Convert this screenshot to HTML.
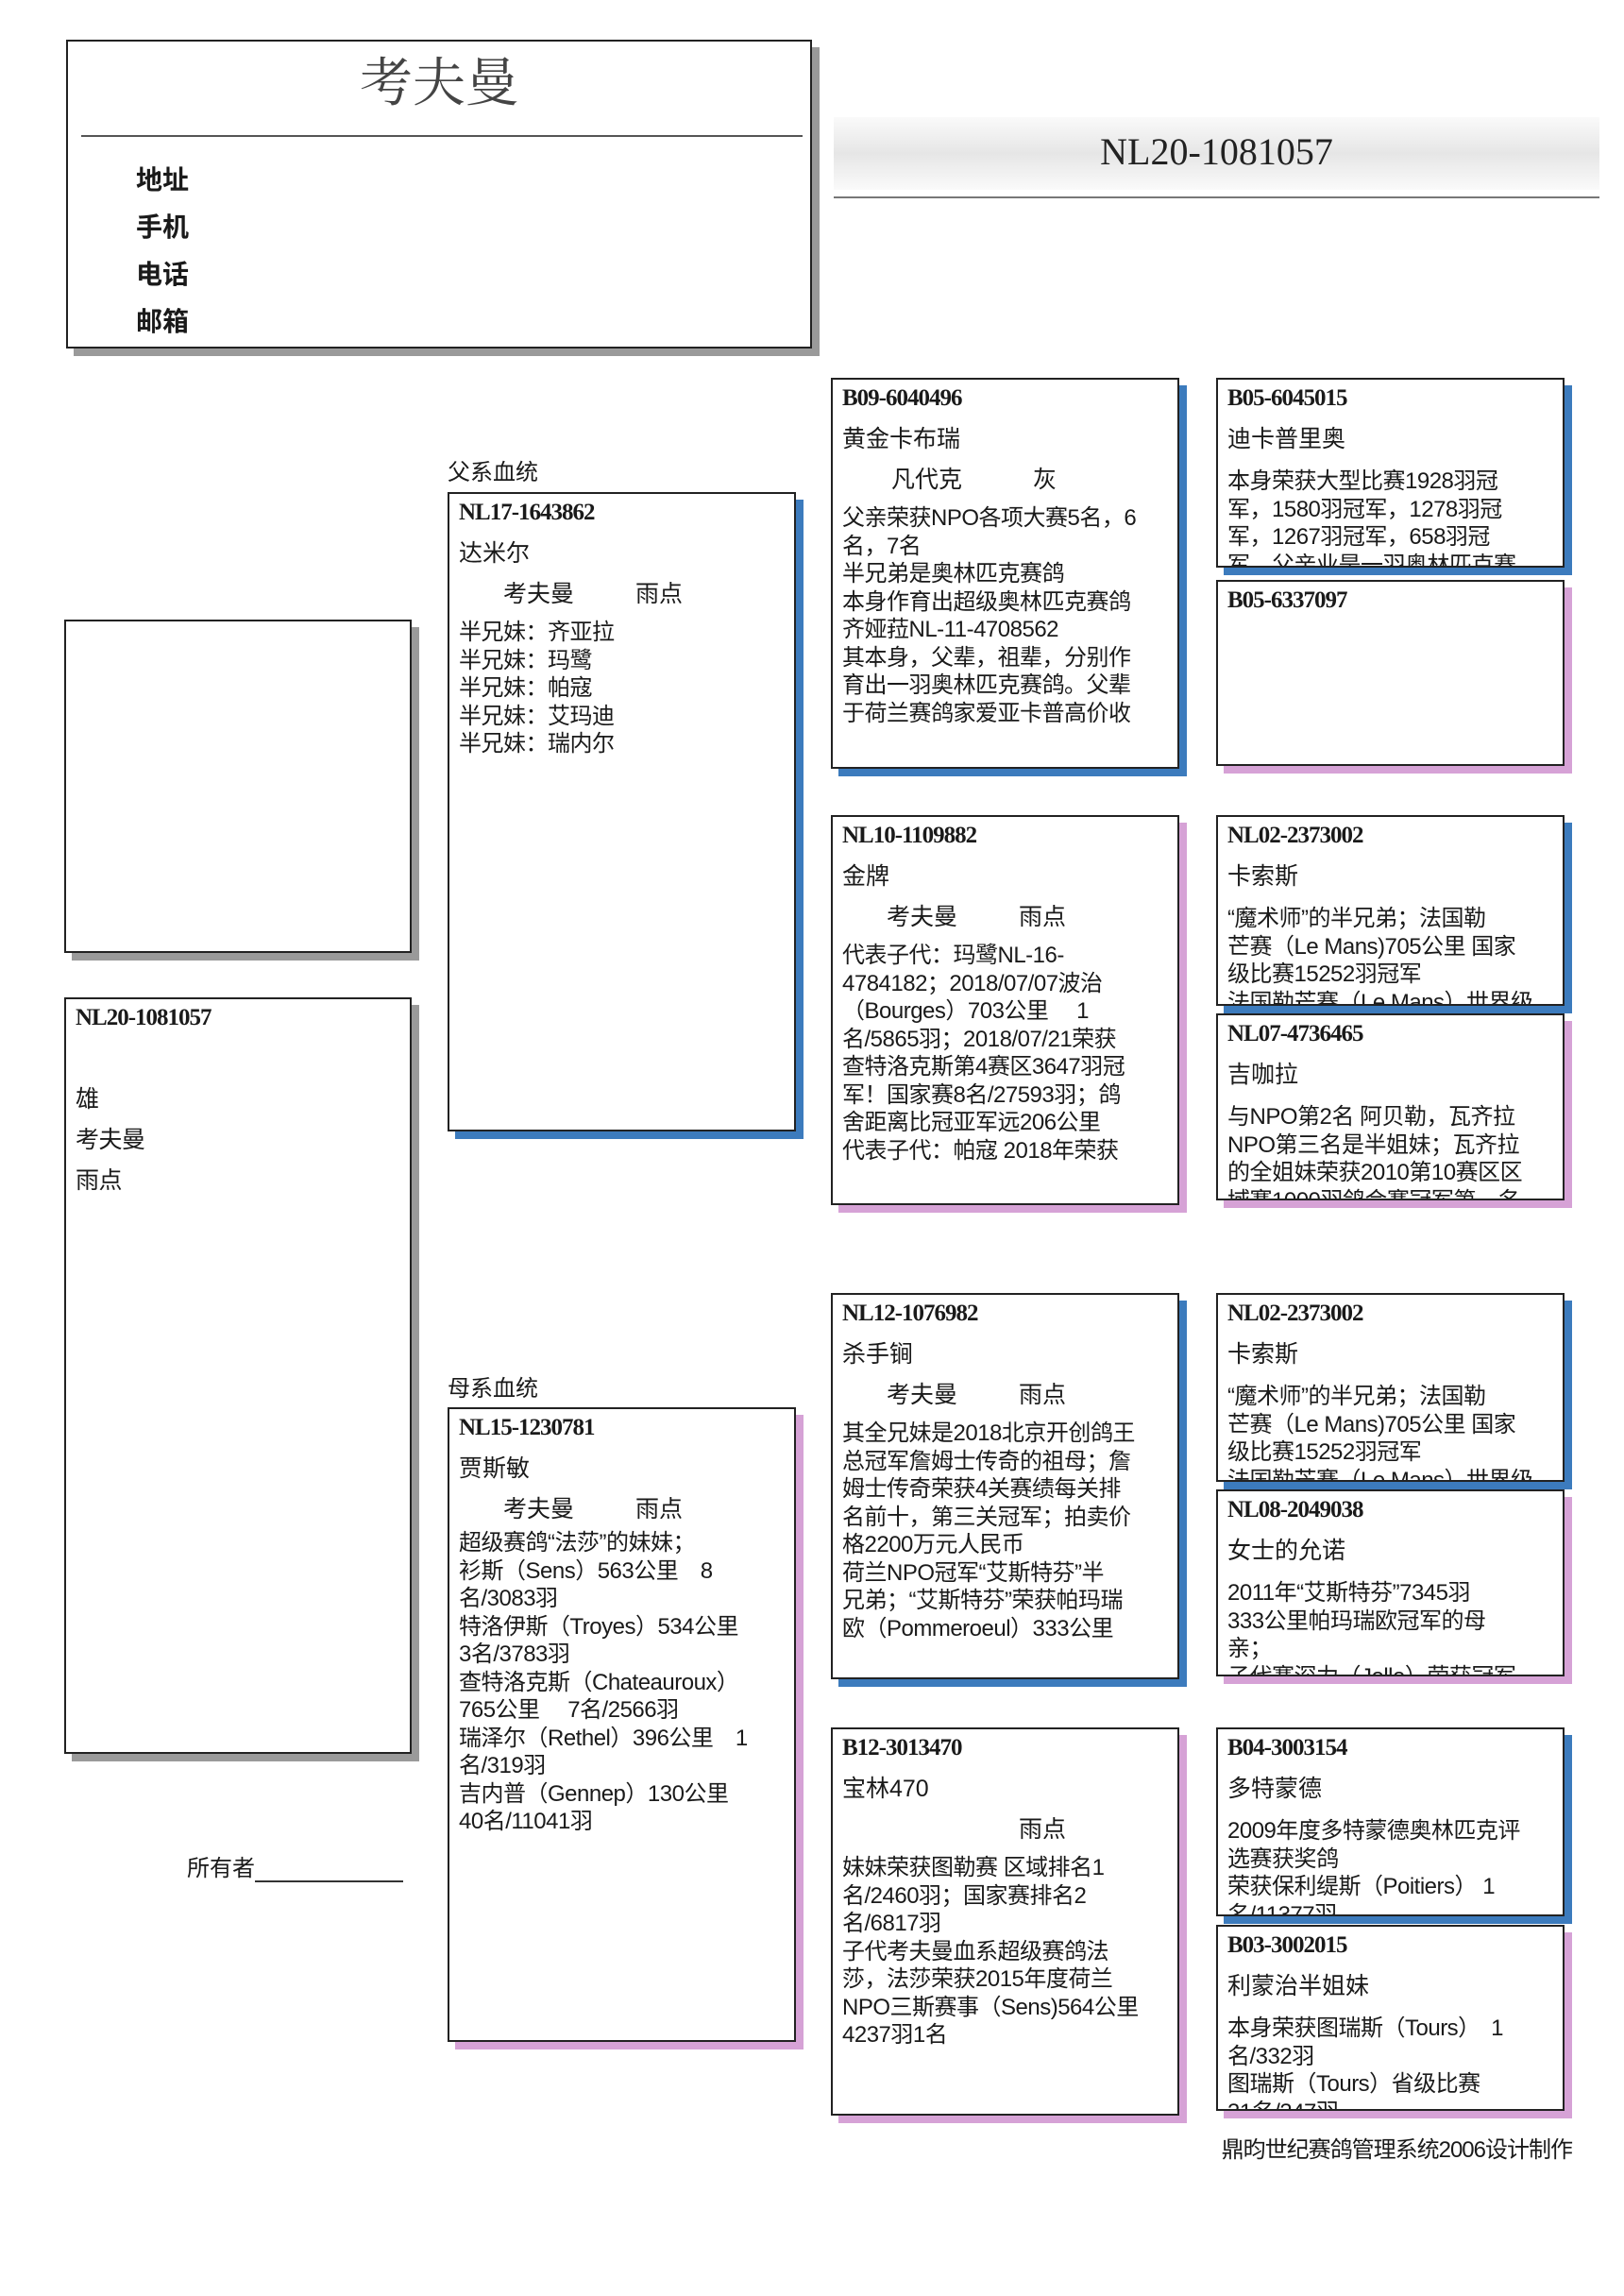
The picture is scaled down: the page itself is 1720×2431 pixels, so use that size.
<!DOCTYPE html>
<html><head><meta charset="utf-8"><style>
*{margin:0;padding:0;box-sizing:border-box}
body{width:1720px;height:2431px;background:#fff;position:relative;overflow:hidden;font-family:"Liberation Sans","Noto Sans CJK SC",sans-serif;color:#1a1a1a}
.b{position:absolute;border:2px solid #222;background:#fff}
.blue{box-shadow:8px 8px 0 #3c7bbd}
.pink{box-shadow:8px 8px 0 #d6a2d6}
.gray{box-shadow:8px 8px 0 #9a9a9a}
.in{position:absolute;inset:0;overflow:hidden}
.id{position:absolute;left:10px;top:5px;font-family:"Liberation Serif",serif;font-weight:bold;font-size:25px;line-height:30px;letter-spacing:-1px;white-space:nowrap}
.nm{position:absolute;left:10px;top:48px;font-size:25px;line-height:30px;white-space:nowrap}
.r3{position:absolute;top:91px;font-size:25px;line-height:30px;white-space:nowrap}
.bd{position:absolute;left:10px;font-size:24px;line-height:29.5px;white-space:nowrap;letter-spacing:-0.5px}
.lbl{position:absolute;font-size:24px;white-space:nowrap}
</style></head><body>

<div class="b gray" style="left:70px;top:42px;width:790px;height:327px">
  <div style="position:absolute;left:0;right:0;top:10px;text-align:center;font-family:'Liberation Serif','Noto Serif CJK SC',serif;font-size:56px;line-height:70px;color:#444">考夫曼</div>
  <div style="position:absolute;left:14px;right:8px;top:99px;height:2px;background:#555"></div>
  <div style="position:absolute;left:72px;top:122px;font-size:28px;font-weight:bold;line-height:50px">地址<br>手机<br>电话<br>邮箱</div>
</div>

<div style="position:absolute;left:883px;top:124px;width:811px;height:77px;background:linear-gradient(#fafafa,#e6e6e6 50%,#fafafa)"></div>
<div style="position:absolute;left:883px;top:136px;width:811px;text-align:center;font-family:'Liberation Serif',serif;font-size:40px;line-height:50px;color:#222">NL20-1081057</div>
<div style="position:absolute;left:883px;top:208px;width:811px;height:2px;background:#777"></div>

<div class="b gray" style="left:68px;top:656px;width:368px;height:353px"></div>

<div class="b gray" style="left:68px;top:1056px;width:368px;height:801px"><div class="in">
<div class="id">NL20-1081057</div>
<div class="bd" style="top:85px;font-size:25px;line-height:43px">雄<br>考夫曼<br>雨点</div>
</div></div>

<div class="lbl" style="left:474px;top:480px">父系血统</div>
<div class="lbl" style="left:474px;top:1450px">母系血统</div>
<div class="lbl" style="left:198px;top:1958px">所有者<span style="display:inline-block;width:157px;border-bottom:2px solid #333;height:22px;vertical-align:bottom"></span></div>
<div class="lbl" style="right:55px;top:2256px;font-size:24px;letter-spacing:-1px">鼎昀世纪赛鸽管理系统2006设计制作</div>

<div class="b blue" style="left:474px;top:521px;width:369px;height:677px"><div class="in">
<div class="id">NL17-1643862</div><div class="nm">达米尔</div>
<div class="r3" style="left:57px">考夫曼</div><div class="r3" style="left:197px">雨点</div>
<div class="bd" style="top:132px">半兄妹：齐亚拉<br>半兄妹：玛鹭<br>半兄妹：帕寇<br>半兄妹：艾玛迪<br>半兄妹：瑞内尔</div>
</div></div>

<div class="b pink" style="left:474px;top:1490px;width:369px;height:672px"><div class="in">
<div class="id">NL15-1230781</div><div class="nm">贾斯敏</div>
<div class="r3" style="left:57px">考夫曼</div><div class="r3" style="left:197px">雨点</div>
<div class="bd" style="top:127px">超级赛鸽“法莎”的妹妹；<br>衫斯（Sens）563公里　8<br>名/3083羽<br>特洛伊斯（Troyes）534公里<br>3名/3783羽<br>查特洛克斯（Chateauroux）<br>765公里　 7名/2566羽<br>瑞泽尔（Rethel）396公里　1<br>名/319羽<br>吉内普（Gennep）130公里<br>40名/11041羽</div>
</div></div>

<div class="b blue" style="left:880px;top:400px;width:369px;height:414px"><div class="in">
<div class="id">B09-6040496</div><div class="nm">黄金卡布瑞</div>
<div class="r3" style="left:62px">凡代克</div><div class="r3" style="left:212px">灰</div>
<div class="bd" style="top:132px">父亲荣获NPO各项大赛5名，6<br>名，7名<br>半兄弟是奥林匹克赛鸽<br>本身作育出超级奥林匹克赛鸽<br>齐娅菈NL-11-4708562<br>其本身，父辈，祖辈，分别作<br>育出一羽奥林匹克赛鸽。父辈<br>于荷兰赛鸽家爱亚卡普高价收</div>
</div></div>

<div class="b pink" style="left:880px;top:863px;width:369px;height:413px"><div class="in">
<div class="id">NL10-1109882</div><div class="nm">金牌</div>
<div class="r3" style="left:57px">考夫曼</div><div class="r3" style="left:197px">雨点</div>
<div class="bd" style="top:132px">代表子代：玛鹭NL-16-<br>4784182；2018/07/07波治<br>（Bourges）703公里　 1<br>名/5865羽；2018/07/21荣获<br>查特洛克斯第4赛区3647羽冠<br>军！国家赛8名/27593羽；鸽<br>舍距离比冠亚军远206公里<br>代表子代：帕寇 2018年荣获</div>
</div></div>

<div class="b blue" style="left:880px;top:1369px;width:369px;height:409px"><div class="in">
<div class="id">NL12-1076982</div><div class="nm">杀手锏</div>
<div class="r3" style="left:57px">考夫曼</div><div class="r3" style="left:197px">雨点</div>
<div class="bd" style="top:132px">其全兄妹是2018北京开创鸽王<br>总冠军詹姆士传奇的祖母；詹<br>姆士传奇荣获4关赛绩每关排<br>名前十，第三关冠军；拍卖价<br>格2200万元人民币<br>荷兰NPO冠军“艾斯特芬”半<br>兄弟；“艾斯特芬”荣获帕玛瑞<br>欧（Pommeroeul）333公里</div>
</div></div>

<div class="b pink" style="left:880px;top:1829px;width:369px;height:411px"><div class="in">
<div class="id">B12-3013470</div><div class="nm">宝林470</div>
<div class="r3" style="left:197px">雨点</div>
<div class="bd" style="top:132px">妹妹荣获图勒赛 区域排名1<br>名/2460羽；国家赛排名2<br>名/6817羽<br>子代考夫曼血系超级赛鸽法<br>莎，法莎荣获2015年度荷兰<br>NPO三斯赛事（Sens)564公里<br>4237羽1名</div>
</div></div>

<div class="b blue" style="left:1288px;top:400px;width:369px;height:201px"><div class="in">
<div class="id">B05-6045015</div><div class="nm">迪卡普里奥</div>
<div class="bd" style="top:93px">本身荣获大型比赛1928羽冠<br>军，1580羽冠军，1278羽冠<br>军，1267羽冠军，658羽冠<br>军，父亲业是一羽奥林匹克赛</div>
</div></div>
<div class="b pink" style="left:1288px;top:614px;width:369px;height:197px"><div class="in">
<div class="id">B05-6337097</div>
</div></div>

<div class="b blue" style="left:1288px;top:863px;width:369px;height:202px"><div class="in">
<div class="id">NL02-2373002</div><div class="nm">卡索斯</div>
<div class="bd" style="top:93px">“魔术师”的半兄弟；法国勒<br>芒赛（Le Mans)705公里 国家<br>级比赛15252羽冠军<br>法国勒芒赛（Le Mans）世界级</div>
</div></div>
<div class="b pink" style="left:1288px;top:1073px;width:369px;height:198px"><div class="in">
<div class="id">NL07-4736465</div><div class="nm">吉咖拉</div>
<div class="bd" style="top:93px">与NPO第2名 阿贝勒，瓦齐拉<br>NPO第三名是半姐妹；瓦齐拉<br>的全姐妹荣获2010第10赛区区<br>域赛1000羽鸽会赛冠军第一名</div>
</div></div>

<div class="b blue" style="left:1288px;top:1369px;width:369px;height:200px"><div class="in">
<div class="id">NL02-2373002</div><div class="nm">卡索斯</div>
<div class="bd" style="top:93px">“魔术师”的半兄弟；法国勒<br>芒赛（Le Mans)705公里 国家<br>级比赛15252羽冠军<br>法国勒芒赛（Le Mans）世界级</div>
</div></div>
<div class="b pink" style="left:1288px;top:1577px;width:369px;height:198px"><div class="in">
<div class="id">NL08-2049038</div><div class="nm">女士的允诺</div>
<div class="bd" style="top:93px">2011年“艾斯特芬”7345羽<br>333公里帕玛瑞欧冠军的母<br>亲；<br>子代赛深力（Jelle）荣获冠军</div>
</div></div>

<div class="b blue" style="left:1288px;top:1829px;width:369px;height:200px"><div class="in">
<div class="id">B04-3003154</div><div class="nm">多特蒙德</div>
<div class="bd" style="top:93px">2009年度多特蒙德奥林匹克评<br>选赛获奖鸽<br>荣获保利缇斯（Poitiers） 1<br>名/11377羽</div>
</div></div>
<div class="b pink" style="left:1288px;top:2038px;width:369px;height:197px"><div class="in">
<div class="id">B03-3002015</div><div class="nm">利蒙治半姐妹</div>
<div class="bd" style="top:93px">本身荣获图瑞斯（Tours）　1<br>名/332羽<br>图瑞斯（Tours）省级比赛<br>31名/347羽</div>
</div></div>

</body></html>
